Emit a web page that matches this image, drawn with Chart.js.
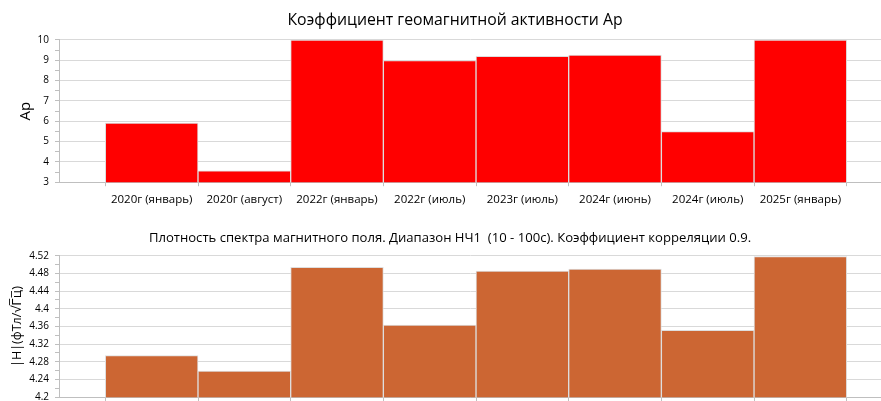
<!DOCTYPE html>
<html>
<head>
<meta charset="utf-8">
<script src="https://cdn.jsdelivr.net/npm/chart.js@4"></script>
<style>
  html, body { margin: 0; padding: 0; background: #fff; overflow: hidden; width: 881px; height: 401px; }
  .box { position: absolute; left: 0; width: 881px; height: 215px; }
</style>
</head>
<body>
<div class="box" style="top:0"><canvas id="c1" width="881" height="215"></canvas></div>
<div class="box" style="top:215px"><canvas id="c2" width="881" height="215"></canvas></div>
<script>
// ---- data ----
const categories = ['2020г (январь)', '2020г (август)', '2022г (январь)', '2022г (июль)',
                    '2023г (июль)', '2024г (июнь)', '2024г (июль)', '2025г (январь)'];
const apValues = [5.91, 3.56, 10.0, 8.99, 9.2, 9.25, 5.49, 10.0];
const hValues  = [4.294, 4.259, 4.494, 4.363, 4.485, 4.490, 4.351, 4.518];
const apTickLabels = ['3', '4', '5', '6', '7', '8', '9', '10'];
const hTickLabels  = ['4.2', '4.24', '4.28', '4.32', '4.36', '4.4', '4.44', '4.48', '4.52'];
const topTitle = 'Коэффициент геомагнитной активности Ap';
const bottomTitle = 'Плотность спектра магнитного поля. Диапазон НЧ1  (10 - 100с). Коэффициент корреляции 0.9.';
const apAxisTitle = 'Ap';
const hAxisTitle = '|H|(фТл/√Г\u0305ц\u0305)';

const FONT = "'Open Sans', 'DejaVu Sans', sans-serif";
const GRID = '#d9d9d9';
const AXIS = '#bfbfbf';
const TEXT = '#000000';

const shiftTitle = {
  id: 'shiftTitle',
  afterLayout(chart, args, opts) {
    const t = chart.titleBlock;
    if (t && opts.dx) { t.left += opts.dx; t.right += opts.dx; }
  }
};

function makeChart(id, values, color, yMin, yMax, yStep, majorEvery, yLabels, title, titleFont, titlePad, titleDx, axisTitle, axisTitleFont, axisTitlePad) {
  const data = values.map((v, i) => ({ x: i + 1, y: v }));
  return new Chart(document.getElementById(id), {
    type: 'bar',
    data: {
      datasets: [{
        data: data,
        backgroundColor: color,
        borderColor: '#dedede',
        borderWidth: 1,
        barPercentage: 1.0,
        categoryPercentage: 1.0
      }]
    },
    plugins: [shiftTitle],
    options: {
      responsive: false,
      animation: false,
      layout: { padding: { left: 0, right: 0, top: 0, bottom: 1 } },
      plugins: {
        legend: { display: false },
        tooltip: { enabled: false },
        shiftTitle: { dx: titleDx },
        title: {
          display: true,
          text: title,
          color: TEXT,
          font: { family: FONT, size: titleFont, weight: 'normal' },
          padding: titlePad
        }
      },
      scales: {
        x: {
          type: 'linear',
          min: 0,
          max: 8.87,
          offset: false,
          border: { color: AXIS, width: 1 },
          grid: { drawOnChartArea: false, drawTicks: true, tickLength: 4, tickColor: AXIS },
          ticks: {
            stepSize: 1,
            autoSkip: false,
            includeBounds: false,
            maxRotation: 0,
            padding: 7,
            color: TEXT,
            font: { family: FONT, size: 11.5 },
            callback: (v) => (Number.isInteger(v) && v >= 1 && v <= categories.length) ? categories[v - 1] : ''
          }
        },
        y: {
          min: yMin,
          max: yMax,
          afterFit: (s) => { s.width = 59; },
          border: { color: AXIS, width: 1 },
          grid: {
            color: (c) => {
              const i = Math.round((c.tick.value - yMin) / yStep);
              return (i % majorEvery === 0) ? GRID : 'rgba(0,0,0,0)';
            },
            tickColor: AXIS,
            tickLength: 4,
            drawTicks: true
          },
          ticks: {
            stepSize: yStep,
            autoSkip: false,
            padding: 6,
            color: TEXT,
            font: { family: FONT, size: 10 },
            callback: (v) => {
              const i = Math.round((v - yMin) / yStep);
              return (i % majorEvery === 0) ? yLabels[i / majorEvery] : '';
            }
          },
          title: {
            display: true,
            text: axisTitle,
            color: TEXT,
            font: { family: FONT, size: axisTitleFont },
            padding: axisTitlePad
          }
        }
      }
    }
  });
}

makeChart('c1', apValues, '#ff0000', 3, 10, 0.5, 2, apTickLabels,
  topTitle, 15.8, { top: 11, bottom: 10 }, 14.5, apAxisTitle, 15, { top: 17, bottom: 0 });
makeChart('c2', hValues, '#cc6633', 4.2, 4.52, 0.02, 2, hTickLabels,
  bottomTitle, 13.1, { top: 15, bottom: 10 }, 9.5, hAxisTitle, 12.5, { top: 10, bottom: 0 });
</script>
</body>
</html>
